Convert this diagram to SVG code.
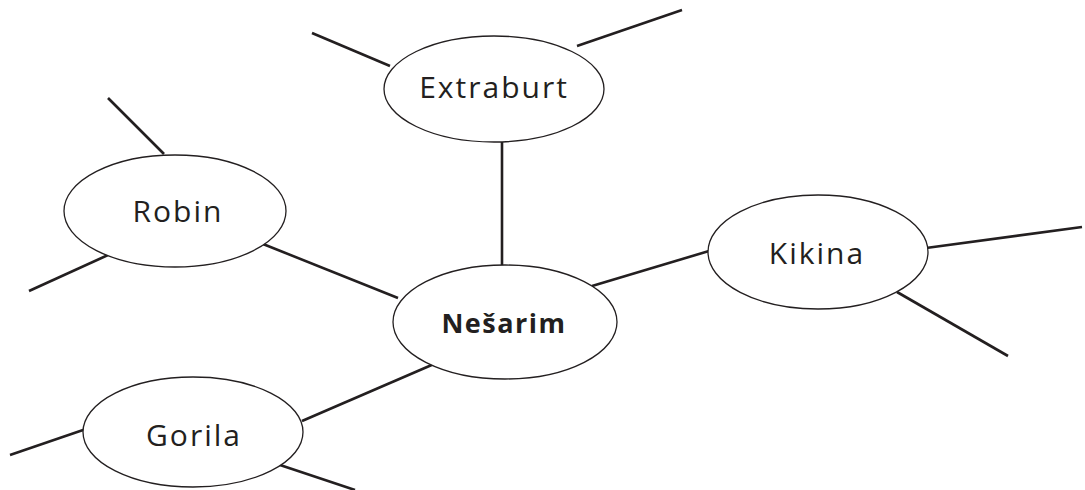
<svg xmlns="http://www.w3.org/2000/svg" width="1085" height="490" viewBox="0 0 1085 490">
<style>
.c{stroke:#231f20;stroke-width:2.6;fill:none;stroke-linecap:butt}
.n{fill:#fff;stroke:#231f20;stroke-width:1.3}
.t{font-family:"Open Sans","Liberation Sans",sans-serif;font-size:30px;fill:#231f20;text-anchor:middle;letter-spacing:2px}
.b{font-weight:bold;font-size:27px;letter-spacing:1.5px}
</style>
<rect width="1085" height="490" fill="#fff"/>
<g id="connectors">
<line class="c" x1="312" y1="33" x2="390" y2="66"/>
<line class="c" x1="577" y1="46" x2="682" y2="10"/>
<line class="c" x1="502" y1="142" x2="502" y2="265"/>
<line class="c" x1="108" y1="98" x2="164" y2="154"/>
<line class="c" x1="29" y1="291" x2="108" y2="255"/>
<line class="c" x1="263" y1="244" x2="398" y2="298"/>
<line class="c" x1="592" y1="286" x2="709" y2="251"/>
<line class="c" x1="926" y1="248" x2="1082" y2="227"/>
<line class="c" x1="897" y1="292" x2="1008" y2="356"/>
<line class="c" x1="302" y1="421" x2="434" y2="364"/>
<line class="c" x1="10" y1="455" x2="86" y2="429"/>
<line class="c" x1="280" y1="465" x2="355" y2="490"/>
</g>
<g id="node-extraburt">
<ellipse class="n" cx="494" cy="89" rx="110" ry="53"/>
<text class="t" x="494" y="98">Extraburt</text>
</g>
<g id="node-robin">
<ellipse class="n" cx="175" cy="211" rx="111" ry="56"/>
<text class="t" x="178" y="222">Robin</text>
</g>
<g id="node-kikina">
<ellipse class="n" cx="818" cy="252" rx="110" ry="57"/>
<text class="t" x="817" y="264">Kikina</text>
</g>
<g id="node-nesarim">
<ellipse class="n" cx="505" cy="322" rx="112" ry="57"/>
<text class="t b" x="504" y="333">Nešarim</text>
</g>
<g id="node-gorila">
<ellipse class="n" cx="193" cy="432" rx="110" ry="55"/>
<text class="t" x="194" y="446">Gorila</text>
</g>
</svg>
